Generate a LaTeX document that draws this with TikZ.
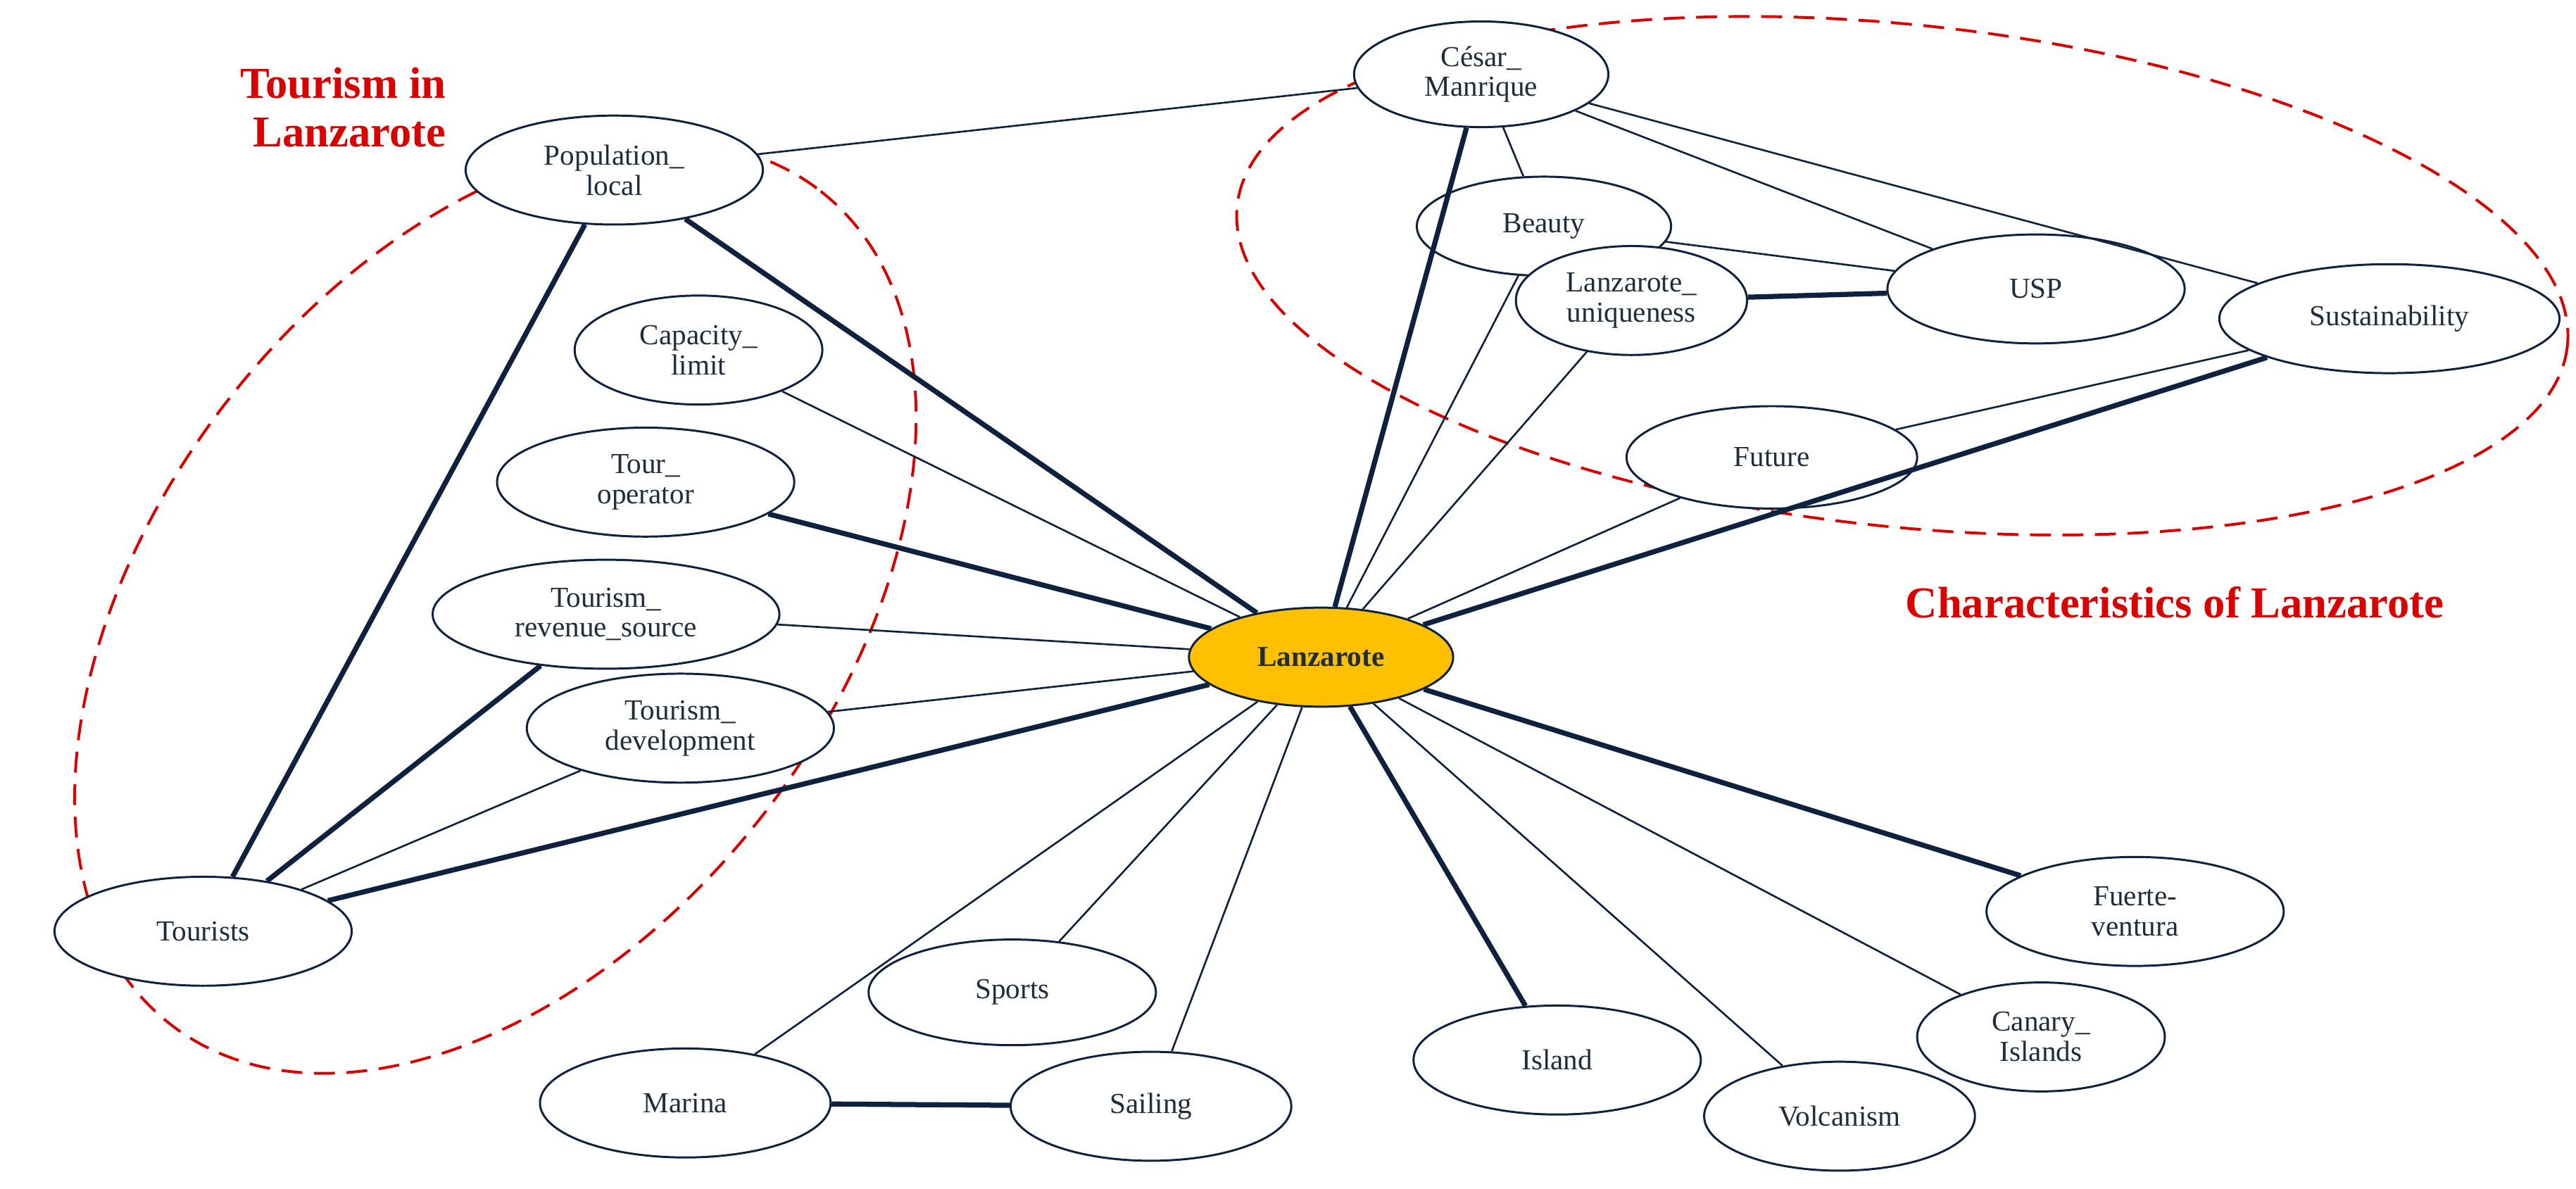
\documentclass[tikz,border=0pt]{standalone}
\usepackage{fontspec}
\setmainfont{Liberation Serif}
\usetikzlibrary{shapes.geometric}
\definecolor{navy}{HTML}{0E2240}
\definecolor{txt}{HTML}{1F2D3D}
\definecolor{gold}{HTML}{FFC000}
\begin{document}
\begin{tikzpicture}[x=0.025cm,y=-0.025cm,
  el/.style 2 args={ellipse,draw=navy,line width=0.9pt,fill=white,inner sep=0pt,
     minimum width=#1*0.025cm,minimum height=#2*0.025cm,align=center,
     font=\fontsize{12.5}{13}\selectfont,text=txt},
  thin/.style={draw=navy,line width=0.8pt},
  thick/.style={draw=navy,line width=2.2pt},
  grp/.style={red!85!black,dash pattern=on 9pt off 5pt,line width=1.2pt},
  lab/.style={text=red!85!black,font=\bfseries\fontsize{19}{21}\selectfont}]
\useasboundingbox (0,0) rectangle (1560,720);
% red dashed groups
\draw[grp] (300,368) ellipse[x radius=320,y radius=205,rotate=52];
\draw[grp] (1152,167) ellipse[x radius=405,y radius=152,rotate=-6];
\node[lab,align=right,anchor=east] (t1) at (275,65) {Tourism in\\Lanzarote};
\node[lab] (t2) at (1317,365) {Characteristics of Lanzarote};
% nodes
\node[el={154}{64}] (ces) at (897,45) {César\_\\Manrique};
\node[el={180}{66}] (pop) at (372,103) {Population\_\\local};
\node[el={150}{66}] (cap) at (423,212) {Capacity\_\\limit};
\node[el={180}{66}] (tour) at (391,292) {Tour\_\\operator};
\node[el={210}{66}] (rev) at (367,372) {Tourism\_\\revenue\_source};
\node[el={186}{66}] (dev) at (412,441) {Tourism\_\\development};
\node[el={180}{66}] (tsts) at (123,564) {Tourists};
\node[el={154}{60}] (bea) at (935,137) {Beauty};
\node[el={180}{66}] (usp) at (1233,175) {USP};
\node[el={140}{66}] (uni) at (988,182) {Lanzarote\_\\uniqueness};
\node[el={206}{66}] (sus) at (1447,193) {Sustainability};
\node[el={176}{62}] (fut) at (1073,277) {Future};
\node[el={180}{66}] (fue) at (1293,552) {Fuerte-\\ventura};
\node[el={174}{64}] (spo) at (613,601) {Sports};
\node[el={150}{66}] (can) at (1236,628) {Canary\_\\Islands};
\node[el={174}{66}] (isl) at (943,642) {Island};
\node[el={176}{66}] (mar) at (415,668) {Marina};
\node[el={170}{66}] (sai) at (697,670) {Sailing};
\node[el={164}{66}] (vol) at (1114,676) {Volcanism};
\node[el={160}{60},fill=gold,font=\bfseries\fontsize{12.5}{13}\selectfont] (lan) at (800,398) {Lanzarote};
% edges
\foreach \a/\b/\s in {lan/ces/thick,lan/pop/thick,lan/cap/thin,lan/tour/thick,lan/rev/thin,lan/dev/thin,lan/tsts/thick,lan/bea/thin,lan/uni/thin,lan/fut/thin,lan/sus/thick,lan/fue/thick,lan/can/thin,lan/vol/thin,lan/isl/thick,lan/sai/thin,lan/spo/thin,lan/mar/thin,pop/ces/thin,pop/tsts/thick,rev/tsts/thick,dev/tsts/thin,ces/bea/thin,ces/usp/thin,ces/sus/thin,bea/usp/thin,uni/usp/thick,fut/sus/thin,mar/sai/thick}
  \draw[\s] (\a) -- (\b);
\end{tikzpicture}
\end{document}
